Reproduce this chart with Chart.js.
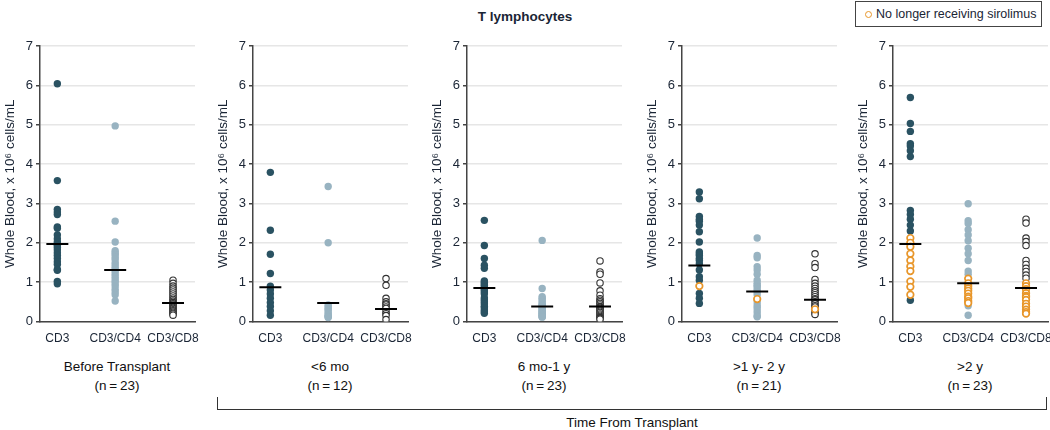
<!DOCTYPE html>
<html>
<head>
<meta charset="utf-8">
<script src="https://cdn.jsdelivr.net/npm/chart.js@4.4.1/dist/chart.umd.min.js"></script>
<style>
  body { margin: 0; width: 1050px; height: 430px; overflow: hidden; background: #fff;
         font-family: "Liberation Sans", Arial, sans-serif; color: #1a2535; position: relative; }
  .panel { position: absolute; top: 0; width: 213px; height: 350px; }
  .title { position: absolute; top: 9px; left: 0; width: 1050px; text-align: center;
           font-weight: bold; font-size: 13.5px; }
  .legend { position: absolute; left: 855px; top: 1px; width: 187px; height: 26px;
            border: 1px solid #444; font-size: 12.5px; line-height: 24px; box-sizing: border-box; }
  .legend .dot { display: inline-block; width: 5px; height: 5px; border: 1.5px solid #e8962a;
                 border-radius: 50%; margin: 0 4px 1px 9px; vertical-align: middle; }
  .group { position: absolute; top: 357px; width: 160px; text-align: center; font-size: 13.5px;
           line-height: 19px; color: #111; }
  .bracket { position: absolute; left: 217px; top: 397px; width: 828px; height: 12px;
             border: 1.5px solid #333; border-top: none; }
  .time { position: absolute; top: 415px; left: 217px; width: 830px; text-align: center;
          font-size: 13.5px; color: #111; }
</style>
</head>
<body>
<div class="title">T lymphocytes</div>
<div class="legend"><span class="dot"></span>No longer receiving sirolimus</div>
<div id="panels"></div>
<div class="bracket"></div>
<div class="time">Time From Transplant</div>
<script>
const categories = ['CD3', 'CD3/CD4', 'CD3/CD8'];
const groupLabels = ['Before Transplant', '<6 mo', '6 mo-1 y', '>1 y- 2 y', '>2 y'];
const groupN = [23, 12, 23, 21, 23];
const yTicks = [0, 1, 2, 3, 4, 5, 6, 7];

// before transplant
const beforeCD3 = [6.04, 3.58, 2.85, 2.78, 2.72, 2.40, 2.37, 2.20, 2.10, 2.02, 1.97, 1.93, 1.88, 1.82, 1.75, 1.68, 1.60, 1.52, 1.45, 1.32, 1.30, 1.02, 0.96];
const beforeCD4 = [4.97, 2.55, 2.02, 1.80, 1.75, 1.70, 1.64, 1.58, 1.50, 1.44, 1.38, 1.32, 1.27, 1.20, 1.14, 1.08, 1.02, 0.96, 0.90, 0.82, 0.75, 0.68, 0.52];
const beforeCD8 = [1.05, 0.97, 0.90, 0.85, 0.80, 0.75, 0.70, 0.65, 0.60, 0.56, 0.52, 0.48, 0.45, 0.42, 0.39, 0.36, 0.33, 0.30, 0.27, 0.24, 0.21, 0.19, 0.16];
const beforeMedian = [1.97, 1.31, 0.47];

// <6 mo
const under6moCD3 = [3.79, 2.32, 1.71, 1.22, 0.90, 0.80, 0.70, 0.59, 0.48, 0.38, 0.27, 0.16];
const under6moCD4 = [3.43, 2.00, 0.42, 0.38, 0.33, 0.30, 0.25, 0.20, 0.16, 0.13, 0.12, 0.10];
const under6moCD8 = [1.09, 0.92, 0.59, 0.50, 0.45, 0.42, 0.37, 0.33, 0.25, 0.20, 0.15, 0.05];
const under6moMedian = [0.87, 0.47, 0.32];

// 6 mo-1 y
const mo6to1yCD3 = [2.57, 1.93, 1.60, 1.43, 1.35, 1.03, 1.00, 0.95, 0.92, 0.87, 0.83, 0.80, 0.75, 0.70, 0.60, 0.55, 0.50, 0.45, 0.39, 0.35, 0.29, 0.25, 0.21];
const mo6to1yCD4 = [2.06, 0.84, 0.63, 0.59, 0.55, 0.50, 0.46, 0.43, 0.40, 0.38, 0.36, 0.33, 0.30, 0.28, 0.25, 0.23, 0.21, 0.19, 0.17, 0.15, 0.13, 0.12, 0.11];
const mo6to1yCD8 = [1.54, 1.26, 1.20, 0.98, 0.78, 0.67, 0.58, 0.54, 0.50, 0.46, 0.42, 0.38, 0.36, 0.33, 0.29, 0.26, 0.23, 0.19, 0.16, 0.13, 0.10, 0.08, 0.06];
const mo6to1yMedian = [0.85, 0.38, 0.38];

// >1 y-2 y (one patient no longer receiving sirolimus)
const y1to2CD3 = [3.29, 3.12, 2.67, 2.59, 2.55, 2.45, 2.28, 2.02, 1.77, 1.72, 1.68, 1.60, 1.55, 1.47, 1.31, 1.14, 1.05, 0.71, 0.59, 0.46];
const y1to2CD4 = [2.12, 1.68, 1.62, 1.39, 1.31, 1.20, 1.05, 0.97, 0.92, 0.88, 0.82, 0.75, 0.68, 0.50, 0.42, 0.36, 0.29, 0.22, 0.14, 0.12];
const y1to2CD8 = [1.72, 1.47, 1.37, 1.07, 0.97, 0.90, 0.84, 0.78, 0.73, 0.68, 0.63, 0.58, 0.55, 0.50, 0.45, 0.40, 0.37, 0.27, 0.21, 0.18];
const y1to2OffCD3 = [0.90];
const y1to2OffCD4 = [0.57];
const y1to2OffCD8 = [0.31];
const y1to2Median = [1.42, 0.76, 0.55];

// >2 y
const over2yCD3 = [5.69, 5.03, 4.83, 4.52, 4.46, 4.34, 4.19, 2.82, 2.72, 2.60, 2.45, 2.30, 0.54];
const over2yCD4 = [2.99, 2.56, 2.49, 2.33, 2.20, 2.05, 1.86, 1.72, 1.55, 1.28, 1.20, 0.40, 0.16];
const over2yCD8 = [2.60, 2.50, 2.12, 2.03, 1.93, 1.55, 1.45, 1.35, 1.27, 1.18, 1.10];
const over2yOffCD3 = [2.12, 2.00, 1.90, 1.72, 1.55, 1.40, 1.28, 1.02, 0.88, 0.68];
const over2yOffCD4 = [1.09, 0.97, 0.90, 0.84, 0.78, 0.71, 0.63, 0.59, 0.52, 0.47];
const over2yOffCD8 = [0.97, 0.90, 0.82, 0.72, 0.65, 0.62, 0.55, 0.45, 0.38, 0.30, 0.24, 0.20];
const over2yMedian = [1.97, 0.97, 0.85];

const panels = [
  { on: [beforeCD3, beforeCD4, beforeCD8], off: [[], [], []], med: beforeMedian },
  { on: [under6moCD3, under6moCD4, under6moCD8], off: [[], [], []], med: under6moMedian },
  { on: [mo6to1yCD3, mo6to1yCD4, mo6to1yCD8], off: [[], [], []], med: mo6to1yMedian },
  { on: [y1to2CD3, y1to2CD4, y1to2CD8], off: [y1to2OffCD3, y1to2OffCD4, y1to2OffCD8], med: y1to2Median },
  { on: [over2yCD3, over2yCD4, over2yCD8], off: [over2yOffCD3, over2yOffCD4, over2yOffCD8], med: over2yMedian }
];

const panelLeft = [0, 213, 427, 642, 853];
const fills = ['#2a5262', '#98b3c1', '#ffffff'];
const edges = ['#2a5262', '#98b3c1', '#333333'];
const orange = '#e8962a';
const textColor = '#1a2535';

panels.forEach((p, k) => {
  const box = document.createElement('div');
  box.className = 'panel';
  box.style.left = panelLeft[k] + 'px';
  const cv = document.createElement('canvas');
  cv.width = 213; cv.height = 350;
  box.appendChild(cv);
  document.getElementById('panels').appendChild(box);

  const lab = document.createElement('div');
  lab.className = 'group';
  lab.style.left = (panelLeft[k] + 40 + 77 - 80) + 'px';
  lab.appendChild(document.createTextNode(groupLabels[k]));
  lab.appendChild(document.createElement('br'));
  lab.appendChild(document.createTextNode('(n\u2009=\u2009' + groupN[k] + ')'));
  document.body.appendChild(lab);

  const datasets = [];
  p.on.forEach((vals, i) => {
    datasets.push({
      data: vals.map(v => ({ x: i, y: v })),
      backgroundColor: fills[i], borderColor: edges[i],
      borderWidth: i === 2 ? 1.1 : 0, pointRadius: i === 2 ? 3.2 : 3.7,
      order: 3
    });
  });
  p.off.forEach((vals, i) => {
    datasets.push({
      data: vals.map(v => ({ x: i, y: v })),
      backgroundColor: '#ffffff', borderColor: orange,
      borderWidth: 1.7, pointRadius: 3.3, order: 2
    });
  });
  p.med.forEach((m, i) => {
    datasets.push({
      type: 'line',
      data: [{ x: i - 0.19, y: m }, { x: i + 0.19, y: m }],
      borderColor: '#000', borderWidth: 2, pointRadius: 0, order: 1
    });
  });

  new Chart(cv, {
    type: 'scatter',
    data: { datasets: datasets },
    options: {
      responsive: false,
      animation: false,
      layout: { padding: { top: 46, right: 18, bottom: 0, left: 0 } },
      plugins: { legend: { display: false }, tooltip: { enabled: false } },
      scales: {
        x: {
          type: 'linear', min: -0.3, max: 2.38,
          afterBuildTicks: s => { s.ticks = [0, 1, 2].map(v => ({ value: v })); },
          afterFit: s => { s.height = 28.5; },
          ticks: { callback: v => categories[v], color: textColor, font: { size: 12, family: 'Liberation Sans' },
                   padding: 10, autoSkip: false, maxRotation: 0 },
          grid: { display: false, drawTicks: false },
          border: { display: true, color: '#444', width: 1.5 }
        },
        y: {
          min: 0, max: 7,
          afterBuildTicks: s => { s.ticks = yTicks.map(v => ({ value: v })); },
          afterFit: s => { s.width = 40; },
          ticks: { color: textColor, font: { size: 13, family: 'Liberation Sans' }, padding: 3 },
          grid: { color: '#e6e6e6', lineWidth: 1.5, tickColor: '#444', tickLength: 4 },
          border: { display: true, color: '#444', width: 1.5 },
          title: { display: true, text: 'Whole Blood, x 10\u2076 cells/mL', color: textColor,
                   font: { size: 13.5, family: 'Liberation Sans' }, padding: { top: 2, bottom: 0 } }
        }
      }
    }
  });
});
</script>
</body>
</html>
